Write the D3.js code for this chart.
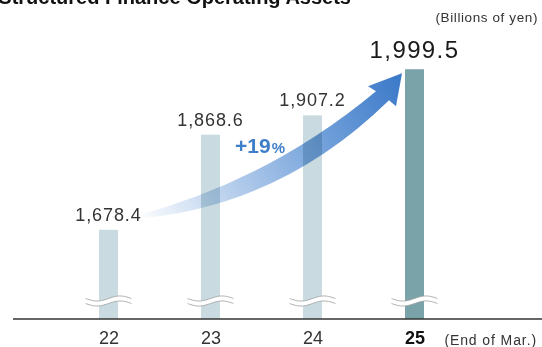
<!DOCTYPE html>
<html>
<head>
<meta charset="utf-8">
<script src="https://cdn.jsdelivr.net/npm/d3@7"></script>
<style>
  html, body { margin: 0; padding: 0; background: #fff; }
  svg { display: block; font-family: "Liberation Sans", Arial, sans-serif; }
</style>
</head>
<body>
<svg id="chart" width="542" height="347"></svg>
<script>
// Fiscal year-ends (March) and operating assets, billions of yen
const years = ["22", "23", "24", "25"];
const assets = [1678.4, 1868.6, 1907.2, 1999.5];
const valueLabels = ["1,678.4", "1,868.6", "1,907.2", "1,999.5"];
const growthLabel = "+19";
const yDomain = [1500, 2000];

const svg = d3.select("#chart");
const W = 542, H = 347;

const x = d3.scalePoint().domain(years).range([108.5, 414.5]);
const y = d3.scaleLinear().domain(yDomain).range([319, 69]);
const barW = 19;
const last = years[years.length - 1];

// Title (partly above the visible area)
svg.append("text")
  .attr("x", 351).attr("y", 4)
  .attr("text-anchor", "end")
  .attr("font-size", 20).attr("font-weight", "bold")
  .attr("fill", "#111")
  .text("Structured Finance Operating Assets");

// Unit note
svg.append("text")
  .attr("x", 538).attr("y", 22)
  .attr("text-anchor", "end")
  .attr("font-size", 13.5).attr("letter-spacing", 0.6)
  .attr("fill", "#333")
  .text("(Billions of yen)");

// Bars
const data = years.map((yr, i) => ({ yr, v: assets[i], label: valueLabels[i] }));

svg.append("g").selectAll("rect")
  .data(data)
  .join("rect")
  .attr("x", d => x(d.yr) - barW / 2)
  .attr("y", d => y(d.v))
  .attr("width", barW)
  .attr("height", d => y(yDomain[0]) - y(d.v))
  .attr("fill", d => d.yr === last ? "#7aa3a9" : "#c9dbe0");

// Growth arrow, from the first bar's label to the top of the last bar
const tail = [x(years[0]) + 27, y(assets[0]) - 13];
const tip = [x(last) - 12.5, y(assets[assets.length - 1]) + 4];

const defs = svg.append("defs");
const grad = defs.append("linearGradient")
  .attr("id", "arrowGrad")
  .attr("gradientUnits", "userSpaceOnUse")
  .attr("x1", tail[0]).attr("y1", tail[1])
  .attr("x2", tip[0]).attr("y2", tip[1]);
grad.append("stop").attr("offset", 0).attr("stop-color", "#ffffff");
grad.append("stop").attr("offset", 0.28).attr("stop-color", "#bfd4ee");
grad.append("stop").attr("offset", 0.65).attr("stop-color", "#74a2db");
grad.append("stop").attr("offset", 1).attr("stop-color", "#3a78c8");

const P = (dx, dy, from) => [from[0] + dx, from[1] + dy];
const uStart = P(0, -1, tail), uCtrl = P(133, -36, tail), uEnd = P(-26, 18, tip);
const lStart = P(0, 2, tail), lCtrl = P(145, -10, tail), lEnd = P(-13, 27, tip);
const headL = P(-34, 13, tip), headR = P(-6, 33, tip);

const arrow = d3.path();
arrow.moveTo(...uStart);
arrow.quadraticCurveTo(...uCtrl, ...uEnd);
arrow.lineTo(...headL);
arrow.lineTo(...tip);
arrow.lineTo(...headR);
arrow.lineTo(...lEnd);
arrow.quadraticCurveTo(...lCtrl, ...lStart);
arrow.closePath();

svg.append("path")
  .attr("d", arrow.toString())
  .attr("fill", "url(#arrowGrad)")
  .style("mix-blend-mode", "multiply");

// Growth label
const g19 = svg.append("text")
  .attr("x", 235).attr("y", 153)
  .attr("fill", "#3f7ec8")
  .attr("font-weight", "bold");
g19.append("tspan").attr("font-size", 21).text(growthLabel);
g19.append("tspan").attr("font-size", 15).attr("dx", 1).text("%");

// Axis break marks
const breakY = 301, breakHalf = 23, amp = 2.6, gap = 5;
const wave = (off) => d3.range(0, 1.0001, 0.05).map(t => [
  -breakHalf + t * 2 * breakHalf,
  off + amp * Math.sin(2 * Math.PI * t)
]);
const line = d3.line().curve(d3.curveBasis);
const brk = svg.append("g").selectAll("g")
  .data(years)
  .join("g")
  .attr("transform", d => `translate(${x(d)},${breakY})`);
brk.append("path")
  .attr("d", () => {
    const top = wave(-gap / 2), bot = wave(gap / 2).reverse();
    return d3.line()(top.concat(bot)) + "Z";
  })
  .attr("fill", "#fff");
brk.append("path").attr("d", line(wave(-gap / 2)))
  .attr("fill", "none").attr("stroke", "#a0a0a0").attr("stroke-width", 0.8);
brk.append("path").attr("d", line(wave(gap / 2)))
  .attr("fill", "none").attr("stroke", "#a0a0a0").attr("stroke-width", 0.8);

// Baseline
svg.append("line")
  .attr("x1", 13).attr("x2", W)
  .attr("y1", y(yDomain[0])).attr("y2", y(yDomain[0]))
  .attr("stroke", "#333").attr("stroke-width", 1.3);

// Value labels
svg.append("g").selectAll("text")
  .data(data)
  .join("text")
  .attr("x", d => x(d.yr))
  .attr("y", d => d.yr === last ? y(d.v) - 11 : y(d.v) - 9)
  .attr("text-anchor", "middle")
  .attr("font-size", d => d.yr === last ? 24 : 18)
  .attr("letter-spacing", d => d.yr === last ? 1.4 : 0.9)
  .attr("fill", d => d.yr === last ? "#1a1a1a" : "#333")
  .text(d => d.label);

// Category axis
const xAxis = svg.append("g")
  .attr("transform", `translate(0,${y(yDomain[0])})`)
  .call(d3.axisBottom(x).tickSize(0).tickPadding(12));
xAxis.select(".domain").remove();
xAxis.selectAll("text")
  .attr("font-family", "Liberation Sans, Arial, sans-serif")
  .attr("font-size", 18)
  .attr("dy", "0.71em")
  .attr("fill", d => d === last ? "#111" : "#333")
  .attr("font-weight", d => d === last ? "bold" : "normal");

svg.append("text")
  .attr("x", 537).attr("y", 345)
  .attr("text-anchor", "end")
  .attr("font-size", 14).attr("letter-spacing", 0.9)
  .attr("fill", "#333")
  .text("(End of Mar.)");
</script>
</body>
</html>
